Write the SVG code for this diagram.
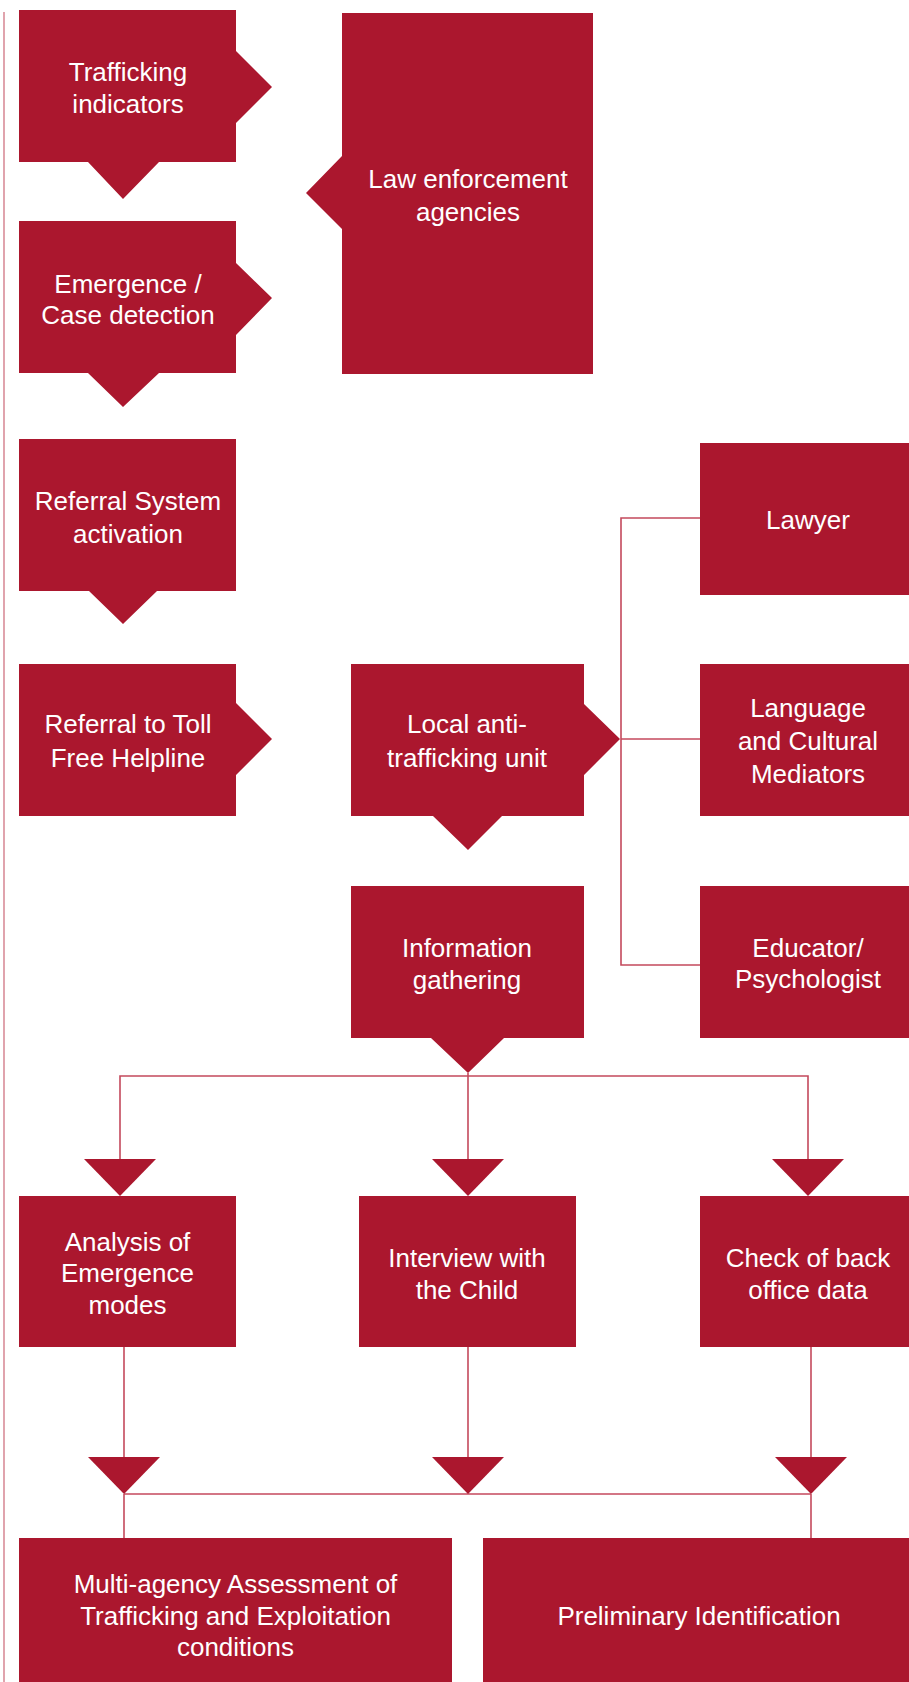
<svg xmlns="http://www.w3.org/2000/svg" width="909" height="1682" viewBox="0 0 909 1682">
  <style>
    .box { fill: #ab172e; }
    .lbl { fill: #ffffff; font-family: "Liberation Sans", Arial, sans-serif; font-size: 26px; text-anchor: middle; }
    .wire { fill: none; stroke: #c4495c; stroke-width: 1.6; }
    .margin { fill: none; stroke: #d98d99; stroke-width: 1.6; }
  </style>
  <defs>
    <!-- downward arrowhead, 72 wide, 37 tall, tip at origin -->
    <polygon id="down-head" points="-36,-37 36,-37 0,0" class="box"/>
  </defs>

  <rect width="909" height="1682" fill="#ffffff"/>

  <!-- margin rule on the left -->
  <line class="margin" x1="4" y1="12" x2="4" y2="1682"/>

  <!-- connectors -->
  <g id="connectors">
    <!-- local unit to support roles -->
    <polyline class="wire" points="700,518 621,518 621,965 700,965"/>
    <line class="wire" x1="621" y1="739" x2="700" y2="739"/>
    <!-- information gathering fan-out -->
    <polyline class="wire" points="120,1159 120,1076 808,1076 808,1159"/>
    <line class="wire" x1="468" y1="1073" x2="468" y2="1159"/>
    <use href="#down-head" x="120" y="1196"/>
    <use href="#down-head" x="468" y="1196"/>
    <use href="#down-head" x="808" y="1196"/>
    <!-- fan-in to assessment / identification -->
    <line class="wire" x1="124" y1="1347" x2="124" y2="1458"/>
    <line class="wire" x1="468" y1="1347" x2="468" y2="1458"/>
    <line class="wire" x1="811" y1="1347" x2="811" y2="1458"/>
    <line class="wire" x1="124" y1="1494" x2="811" y2="1494"/>
    <line class="wire" x1="124" y1="1494" x2="124" y2="1538"/>
    <line class="wire" x1="811" y1="1494" x2="811" y2="1538"/>
    <use href="#down-head" x="124" y="1494"/>
    <use href="#down-head" x="468" y="1494"/>
    <use href="#down-head" x="811" y="1494"/>
  </g>

  <g id="trafficking-indicators">
    <path class="box" d="M19,10 H236 V51 L272,87 L236,123 V162 H159 L123,199 L88,162 H19 Z"/>
    <text class="lbl" x="128" y="81">Trafficking</text>
    <text class="lbl" x="128" y="113">indicators</text>
  </g>

  <g id="emergence">
    <path class="box" d="M19,221 H236 V263 L272,298 L236,335 V373 H159 L123,407 L88,373 H19 Z"/>
    <text class="lbl" x="128" y="293">Emergence /</text>
    <text class="lbl" x="128" y="324">Case detection</text>
  </g>

  <g id="law-enforcement">
    <path class="box" d="M342,13 H593 V374 H342 V229 L306,193 L342,156 Z"/>
    <text class="lbl" x="468" y="188">Law enforcement</text>
    <text class="lbl" x="468" y="221">agencies</text>
  </g>

  <g id="referral-system">
    <path class="box" d="M19,439 H236 V591 H157 L123,624 L89,591 H19 Z"/>
    <text class="lbl" x="128" y="510">Referral System</text>
    <text class="lbl" x="128" y="543">activation</text>
  </g>

  <g id="toll-free-helpline">
    <path class="box" d="M19,664 H236 V703 L272,739 L236,775 V816 H19 Z"/>
    <text class="lbl" x="128" y="733">Referral to Toll</text>
    <text class="lbl" x="128" y="767">Free Helpline</text>
  </g>

  <g id="local-unit">
    <path class="box" d="M351,664 H584 V704 L620,739 L584,775 V816 H502 L468,850 L433,816 H351 Z"/>
    <text class="lbl" x="467" y="733">Local anti-</text>
    <text class="lbl" x="467" y="767">trafficking unit</text>
  </g>

  <g id="lawyer">
    <rect class="box" x="700" y="443" width="209" height="152"/>
    <text class="lbl" x="808" y="529">Lawyer</text>
  </g>

  <g id="mediators">
    <rect class="box" x="700" y="664" width="209" height="152"/>
    <text class="lbl" x="808" y="717">Language</text>
    <text class="lbl" x="808" y="750">and Cultural</text>
    <text class="lbl" x="808" y="783">Mediators</text>
  </g>

  <g id="information-gathering">
    <path class="box" d="M351,886 H584 V1038 H504 L468,1073 L431,1038 H351 Z"/>
    <text class="lbl" x="467" y="957">Information</text>
    <text class="lbl" x="467" y="989">gathering</text>
  </g>

  <g id="educator">
    <rect class="box" x="700" y="886" width="209" height="152"/>
    <text class="lbl" x="808" y="957">Educator/</text>
    <text class="lbl" x="808" y="988">Psychologist</text>
  </g>

  <g id="analysis">
    <rect class="box" x="19" y="1196" width="217" height="151"/>
    <text class="lbl" x="127.5" y="1251">Analysis of</text>
    <text class="lbl" x="127.5" y="1282">Emergence</text>
    <text class="lbl" x="127.5" y="1314">modes</text>
  </g>

  <g id="interview">
    <rect class="box" x="359" y="1196" width="217" height="151"/>
    <text class="lbl" x="467" y="1267">Interview with</text>
    <text class="lbl" x="467" y="1299">the Child</text>
  </g>

  <g id="back-office">
    <rect class="box" x="700" y="1196" width="209" height="151"/>
    <text class="lbl" x="808" y="1267">Check of back</text>
    <text class="lbl" x="808" y="1299">office data</text>
  </g>

  <g id="assessment">
    <rect class="box" x="19" y="1538" width="433" height="144"/>
    <text class="lbl" x="235.5" y="1593">Multi-agency Assessment of</text>
    <text class="lbl" x="235.5" y="1625">Trafficking and Exploitation</text>
    <text class="lbl" x="235.5" y="1656">conditions</text>
  </g>

  <g id="preliminary-identification">
    <rect class="box" x="483" y="1538" width="426" height="144"/>
    <text class="lbl" x="699" y="1625">Preliminary Identification</text>
  </g>
</svg>
